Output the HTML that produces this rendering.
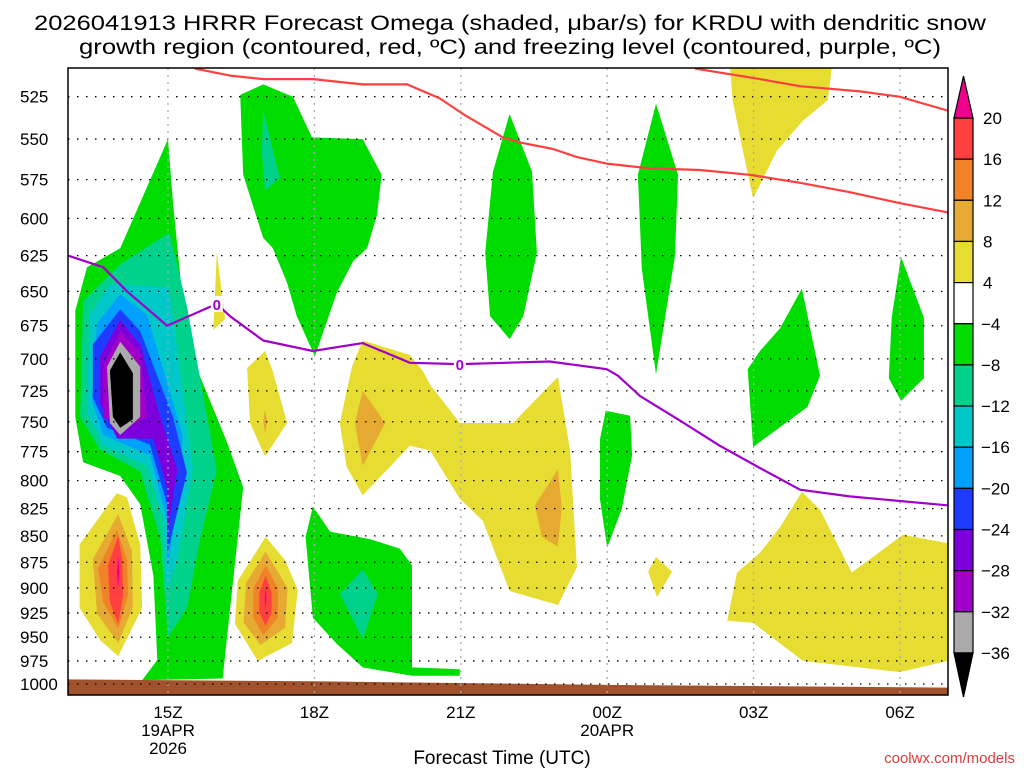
<!DOCTYPE html>
<html><head><meta charset="utf-8"><style>
html,body{margin:0;padding:0;background:#fff;}
svg{display:block;font-family:"Liberation Sans","DejaVu Sans",sans-serif;}
</style></head><body>
<svg id="chart" width="1024" height="768" viewBox="0 0 1024 768" xmlns="http://www.w3.org/2000/svg">
<text x="510" y="30" font-size="21" text-anchor="middle" textLength="952" lengthAdjust="spacingAndGlyphs">2026041913 HRRR Forecast Omega (shaded, μbar/s) for KRDU with dendritic snow</text>
<text x="510" y="54" font-size="21" text-anchor="middle" textLength="862" lengthAdjust="spacingAndGlyphs">growth region (contoured, red, ºC) and freezing level (contoured, purple, ºC)</text>
<g id="plot"></g>
<g id="axes"></g>
<g id="cbar"></g>
<text x="502" y="764" font-size="19" text-anchor="middle">Forecast Time (UTC)</text>
<text x="1015" y="763" font-size="15" fill="#e03c3c" text-anchor="end">coolwx.com/models</text>
</svg>
<script>
// ---- data ----
const pressureTicks = [525,550,575,600,625,650,675,700,725,750,775,800,825,850,875,900,925,950,975,1000];
const timeTickHours = [15,18,21,24,27,30];
const timeTickLabels = ["15Z","18Z","21Z","00Z","03Z","06Z"];
const dayLabels = {15:["19APR","2026"],24:["20APR"]};
const levelColors = {"-36":"#000000","-32":"#aaaaaa","-28":"#a000c8","-24":"#7d00dc","-20":"#1e3cff","-16":"#00a0ff","-12":"#00c8c8","-8":"#00d28c","-4":"#00dc00","4":"#e6dc32","8":"#e6aa32","12":"#f08228","16":"#ff4040","20":"#f0008c"};
const colorbarLevels = [20,16,12,8,4,-4,-8,-12,-16,-20,-24,-28,-32,-36];
const colorbarFills = ["#ff4040","#f08228","#e6aa32","#e6dc32","#ffffff","#00dc00","#00d28c","#00c8c8","#00a0ff","#1e3cff","#7d00dc","#a000c8","#aaaaaa"];
// omega regions: [level, [hour, hPa, hour, hPa, ...]]
const omegaRegions = [
 [-4,[15.0,550,14.02,620,13.34,633,13.1,664,13.1,746,13.26,784,14.02,796,14.43,821,14.7,888,14.78,974,14.47,996,16.12,994,16.2,954,16.54,806,16.21,767,15.39,689,15.1,589]],
 [-8,[15.0,610,14.02,631,13.26,657,13.2,746,13.6,773,14.43,792,14.84,852,15.0,950,15.39,920,15.65,855,16.0,791,15.39,661,15.04,611]],
 [-12,[15.0,647,13.81,645,13.4,667,13.34,742,13.67,770,14.57,787,14.9,836,14.98,904,15.19,872,15.51,790,15.04,652]],
 [-16,[14.02,652,13.55,673,13.44,733,13.67,761,14.63,778,14.98,836,14.98,885,15.24,806,15.3,761,14.57,667]],
 [-20,[14.02,663,13.46,689,13.46,730,13.75,755,14.63,769,14.98,821,14.98,867,15.39,793,15.1,746,14.43,679]],
 [-24,[14.02,671,13.61,698,13.61,735,13.96,764,14.7,764,14.98,806,14.98,851,15.19,790,14.84,746,14.43,689]],
 [-28,[14.02,679,13.67,706,13.67,746,14.08,757,14.57,746,14.43,695]],
 [-32,[14.02,687,13.75,706,13.81,751,14.02,761,14.43,746,14.43,706]],
 [-36,[14.02,695,13.81,709,13.87,746,14.02,755,14.28,748,14.28,711]],
 [4,[13.95,811,13.19,858,13.19,920,13.61,953,13.98,970,14.47,920,14.43,858,14.16,815]],
 [8,[13.98,830,13.46,872,13.55,926,13.98,956,14.28,919,14.26,864]],
 [12,[13.95,844,13.57,881,13.67,914,13.98,941,14.18,907,14.16,872]],
 [16,[13.98,850,13.77,878,13.81,914,13.98,936,14.08,907,14.06,872]],
 [20,[13.98,868,13.95,885,13.98,900,14.01,885]],
 [4,[17.0,851,16.43,893,16.37,936,16.84,975,17.54,956,17.66,902,17.4,873]],
 [8,[17.0,865,16.6,895,16.55,935,16.9,958,17.4,940,17.45,900]],
 [12,[17.0,878,16.75,900,16.75,930,16.95,948,17.25,930,17.25,900]],
 [16,[17.0,888,16.87,905,16.87,925,17.0,938,17.12,925,17.12,905]],
 [20,[17.0,900,16.98,910,17.0,920,17.02,910]],
 [-4,[16.48,524,16.95,518,17.56,525,17.95,549,18.99,550,19.38,572,19.28,598,19.08,620,18.79,629,18.46,651,18.01,698,17.64,668,17.44,644,17.15,620,16.95,613,16.54,572]],
 [-8,[16.95,533,17.29,574,16.99,582,16.92,558]],
 [-4,[22.0,535,22.46,570,22.56,623,22.28,668,22.0,685,21.6,668,21.5,623,21.66,570]],
 [4,[16.0,623,15.93,678,16.17,670,16.1,650]],
 [4,[16.99,694,16.62,707,16.68,751,16.99,779,17.44,751,17.15,710]],
 [8,[16.99,740,16.95,750,16.99,760,17.03,750]],
 [4,[18.99,686,19.96,697,20.23,710,20.37,720,20.98,751,22.07,751,22.99,714,23.24,774,23.38,880,22.99,917,22.0,903,21.45,836,20.98,816,20.37,774,19.96,770,18.99,813,18.66,788,18.52,751,18.77,706]],
 [8,[18.99,725,19.45,751,18.99,787,18.83,751]],
 [8,[22.99,790,23.07,824,22.99,860,22.66,851,22.52,822]],
 [-4,[17.97,823,18.32,846,19.14,853,19.75,862,20.0,878,20.0,982,20.98,984,20.98,991,20.0,991,18.99,982,18.46,957,17.97,930,17.82,851]],
 [-8,[18.99,882,19.3,906,18.99,952,18.52,906]],
 [-4,[23.97,741,24.47,745,24.51,778,24.3,825,24.0,861,23.85,816,23.85,765]],
 [-4,[25.0,529,25.45,572,25.39,625,25.0,712,24.71,634,24.63,572]],
 [4,[26.52,509,28.6,509,28.52,527,28.01,539,27.48,557,26.99,587,26.78,557,26.57,527]],
 [-4,[27.99,648,28.36,713,28.1,738,26.99,771,26.88,708,27.13,694,27.54,677]],
 [-4,[30.02,626,30.49,669,30.49,715,30.02,733,29.77,715,29.83,669]],
 [4,[25.0,870,25.33,884,25.02,909,24.84,884]],
 [4,[27.99,810,28.36,826,29.01,885,30.06,849,30.98,857,30.98,975,29.99,987,28.01,975,27.48,954,26.99,935,26.46,933,26.66,885,27.13,866,27.54,842]]
];
const dgzUpperHours = [15.55,16.27,16.95,17.97,18.99,19.9,20.57,21.04,21.86,22.21,22.89,23.38,23.99,24.87,25.9,26.92,27.95,28.97,29.99,30.97];
const dgzUpperPres  = [509,513,515,515,518,518,526,535,549,552,556,561,565,568,569,572,577,583,590,596];
const dgzTopHours = [25.8,27.13,27.95,29.18,29.99,30.97];
const dgzTopPres  = [509,515,519,522,525,533];
const frzHours = [12.95,13.67,14.16,14.98,16.0,16.27,16.95,17.97,18.99,19.96,20.98,22.82,23.99,24.22,24.67,25.49,26.31,27.13,27.95,28.97,30.97];
const frzPres  = [625,633,650,675,659,668,686,694,688,703,704,702,708,713,729,749,770,789,808,814,822];
const frzLabelHours = [16.0,20.98];
const surfHours = [12.95,18,24,30.98];
const surfPres  = [995,997,1001,1004];
// ---- axes ----
const X0=68,X1=948,Y0=68,Y1=695;
function xs(h){return 70.4+(h-13)*48.8;}
function ys(p){return 684-911.5*Math.log(1000/p);}
const NS="http://www.w3.org/2000/svg";
function mk(tag,attrs,parent){const e=document.createElementNS(NS,tag);for(const k in attrs)e.setAttribute(k,attrs[k]);parent.appendChild(e);return e;}
const plot=document.getElementById('plot'),axes=document.getElementById('axes'),cbar=document.getElementById('cbar');
mk('clipPath',{id:'clip'},plot);
mk('rect',{x:X0,y:Y0,width:X1-X0,height:Y1-Y0},document.getElementById('clip'));
const g=mk('g',{'clip-path':'url(#clip)'},plot);
omegaRegions.forEach((r,i)=>{
  const pts=[];for(let k=0;k<r[1].length;k+=2)pts.push(xs(r[1][k]).toFixed(1)+','+ys(r[1][k+1]).toFixed(1));
  const e=mk('polygon',{points:pts.join(' '),fill:levelColors[String(r[0])]},g);
  
  
});
// surface
{const pts=[];surfHours.forEach((h,i)=>pts.push(xs(h)+','+ys(surfPres[i])));pts.push(X1+','+(Y1+5));pts.push(X0+','+(Y1+5));
 const e=mk('polygon',{points:pts.join(' '),fill:'#a0522d'},g);
 
 }
// grid
pressureTicks.forEach(p=>{
  const e=mk('line',{x1:X0,x2:X1,y1:ys(p),y2:ys(p),stroke:'#000','stroke-width':1.3,'stroke-dasharray':'1.5 7.5'},g);
  
  
  const t=mk('text',{x:20,y:ys(p)+6,'font-size':17},axes);t.textContent=p;
  
  
});
timeTickHours.forEach((h,i)=>{
  const e=mk('line',{x1:xs(h),x2:xs(h),y1:Y0,y2:Y1,stroke:'#aaa','stroke-width':1.3,'stroke-dasharray':'2 5'},g);
  
  
  const t=mk('text',{x:xs(h),y:718,'font-size':17,'text-anchor':'middle'},axes);t.textContent=timeTickLabels[i];
  
  
  (dayLabels[h]||[]).forEach((s,j)=>{const d=mk('text',{x:xs(h),y:736+j*18,'font-size':17,'text-anchor':'middle'},axes);d.textContent=s;
    
    });
});
function line(hs,ps,color,name){
  const pts=hs.map((h,i)=>xs(h).toFixed(1)+','+ys(ps[i]).toFixed(1)).join(' ');
  const e=mk('polyline',{points:pts,fill:'none',stroke:color,'stroke-width':2.2,'stroke-linejoin':'round'},g);
  
  
}
line(dgzUpperHours,dgzUpperPres,'#ff4040','dgz-contour-lower');
line(dgzTopHours,dgzTopPres,'#ff4040','dgz-contour-upper');
line(frzHours,frzPres,'#a000c8','freezing-level-contour');
frzLabelHours.forEach(h=>{
  let k=0;while(k<frzHours.length-2&&frzHours[k+1]<h)k++;
  const f=(h-frzHours[k])/(frzHours[k+1]-frzHours[k]);const p=frzPres[k]+f*(frzPres[k+1]-frzPres[k]);
  mk('rect',{x:xs(h)-6,y:ys(p)-8,width:12,height:16,fill:'#fff'},g);
  const t=mk('text',{x:xs(h),y:ys(p)+6,'font-size':15,'font-weight':'bold',fill:'#a000c8','text-anchor':'middle'},g);t.textContent='0';
  
  
});
mk('rect',{x:X0,y:Y0,width:X1-X0,height:Y1-Y0,fill:'none',stroke:'#000','stroke-width':1.5},axes);
// colorbar
const CB0=118,CBH=41.15,CX=954,CW=19;
colorbarFills.forEach((c,i)=>{
  const e=mk('rect',{x:CX,y:CB0+i*CBH,width:CW,height:CBH,fill:c,stroke:'#000','stroke-width':1.2},cbar);
  
  
});
mk('polygon',{points:`${CX},${CB0} ${CX+CW},${CB0} ${CX+CW/2},76`,fill:levelColors["20"],stroke:'#000','stroke-width':1.2},cbar);
mk('polygon',{points:`${CX},${CB0+13*CBH} ${CX+CW},${CB0+13*CBH} ${CX+CW/2},697`,fill:'#000',stroke:'#000','stroke-width':1.2},cbar);
colorbarLevels.forEach((v,i)=>{
  const t=mk('text',{x:v<0?981:983,y:CB0+i*CBH+6,'font-size':17},cbar);t.textContent=v<0?'\u2212'+(-v):String(v);
  
  
});
</script>
</body></html>
